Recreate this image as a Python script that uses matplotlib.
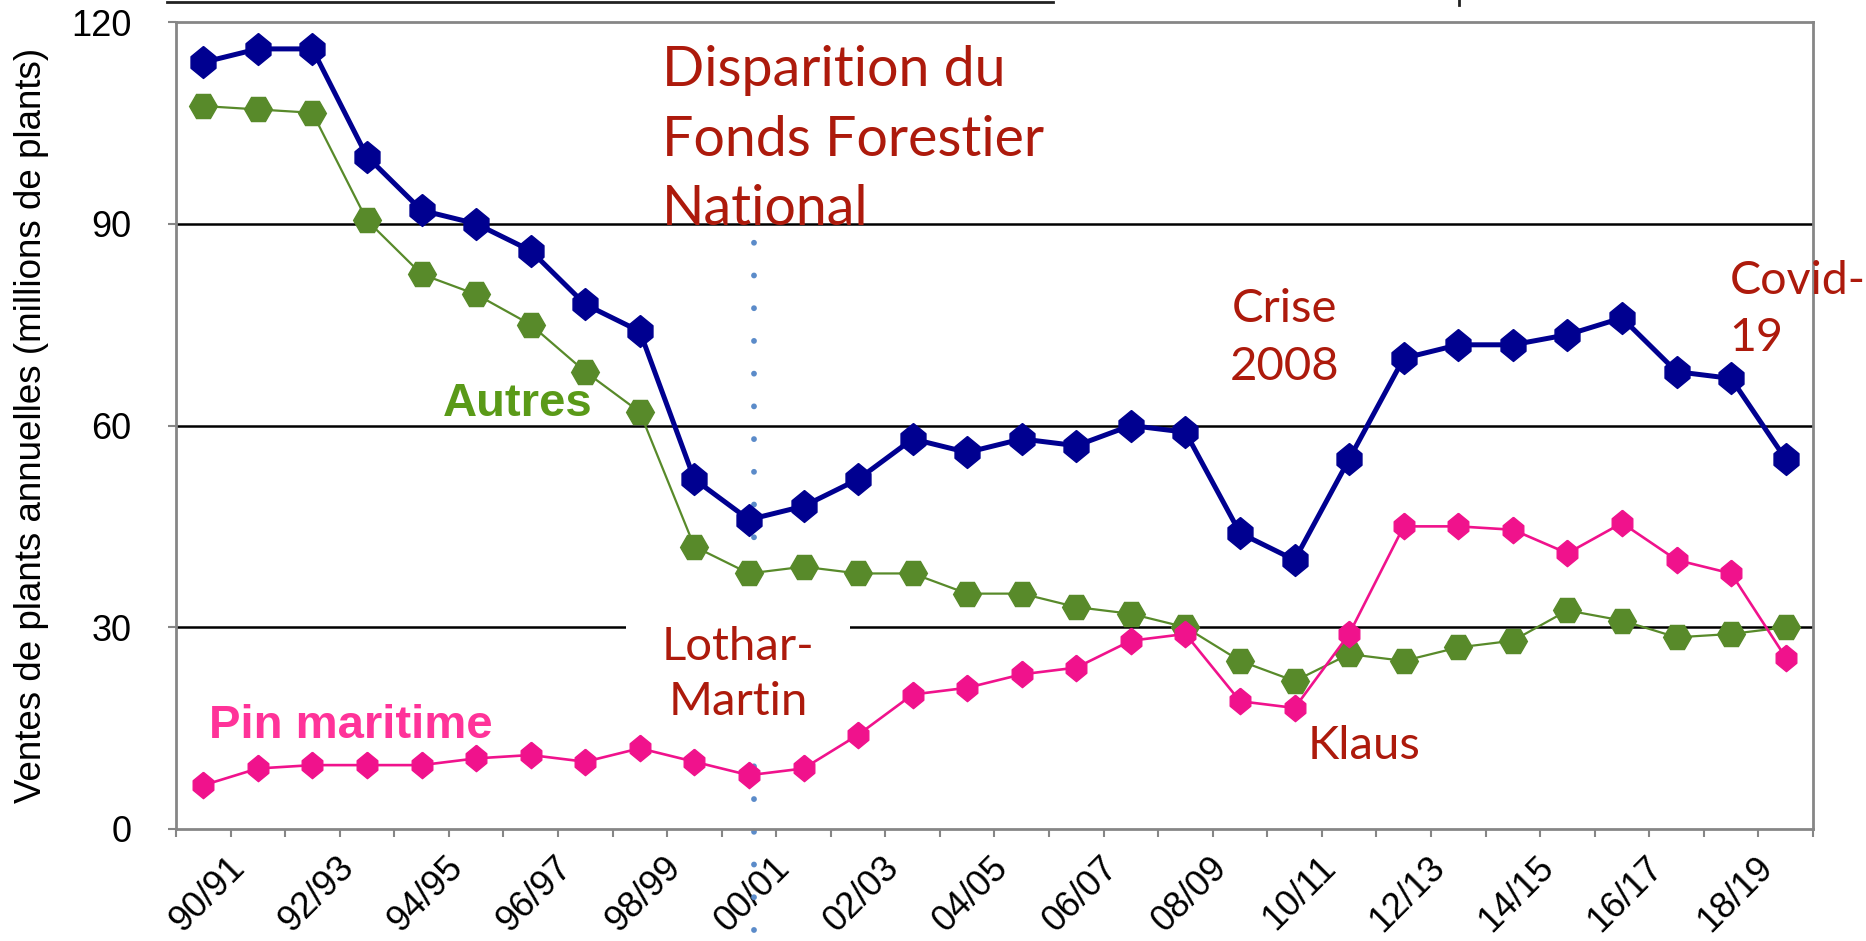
import numpy as np
import matplotlib
matplotlib.use('Agg')
import matplotlib.pyplot as plt
from matplotlib.lines import Line2D
from matplotlib.transforms import ScaledTranslation

# campagnes 90/91 ... 19/20
seasons = ['90/91', '91/92', '92/93', '93/94', '94/95', '95/96', '96/97', '97/98',
           '98/99', '99/00', '00/01', '01/02', '02/03', '03/04', '04/05', '05/06',
           '06/07', '07/08', '08/09', '09/10', '10/11', '11/12', '12/13', '13/14',
           '14/15', '15/16', '16/17', '17/18', '18/19', '19/20']

total = [114, 116, 116, 100, 92, 90, 86, 78, 74, 52, 46, 48, 52, 58, 56, 58, 57,
         60, 59, 44, 40, 55, 70, 72, 72, 73.5, 76, 68, 67, 55]
autres = [107.5, 107, 106.5, 90.5, 82.5, 79.5, 75, 68, 62, 42, 38, 39, 38, 38, 35,
          35, 33, 32, 30, 25, 22, 26, 25, 27, 28, 32.5, 31, 28.5, 29, 30]
pin_maritime = [6.5, 9, 9.5, 9.5, 9.5, 10.5, 11, 10, 12, 10, 8, 9, 14, 20, 21, 23,
                24, 28, 29, 19, 18, 29, 45, 45, 44.5, 41, 45.5, 40, 38, 25.5]

y_ticks = [0, 30, 60, 90, 120]
storm_x = 10.1          # position of the dotted "Lothar-Martin" marker line
storm_span = (-15, 91)

RED = '#AD1A0C'
BLUE = '#000090'
GREEN = '#588A2A'
PINK = '#F0128C'
GRAY = '#868686'

# Excel-like stretched hexagon (pointed top and bottom)
tall_hex = [(0, 1), (0.78, 0.36), (0.78, -0.36), (0, -1), (-0.78, -0.36), (-0.78, 0.36), (0, 1)]

plt.rcParams['font.family'] = ['Liberation Sans', 'DejaVu Sans']

fig = plt.figure(figsize=(18.66, 9.41), dpi=100)
ax = fig.add_axes([176 / 1866, 1 - 829 / 941, (1813 - 176) / 1866, (829 - 22) / 941])

x = np.arange(len(seasons))

ax.plot(x, total, color=BLUE, lw=3.6, marker=tall_hex, ms=23, mec=BLUE, mfc=BLUE, zorder=6)
ax.plot(x, autres, color=GREEN, lw=1.6, marker='H', ms=20, mec=GREEN, mfc=GREEN, zorder=5)
ax.plot(x, pin_maritime, color=PINK, lw=1.9, marker=tall_hex, ms=19, mec=PINK, mfc=PINK, zorder=5)

for v in y_ticks[1:-1]:
    ax.axhline(v, color='black', lw=1.8, zorder=1)

ax.plot([storm_x, storm_x], storm_span, color='#5B8BC9', lw=4.2,
        dashes=(0.01, 5.6), dash_capstyle='round', clip_on=False, zorder=2)

ax.set_xlim(-0.5, len(seasons) - 0.5)
ax.set_ylim(0, 120)

# tick marks on category boundaries, labels on every other season
ax.set_xticks(np.arange(len(seasons) + 1) - 0.5)
ax.set_xticklabels([])
ax.set_xticks(x[::2], minor=True)
ax.set_xticklabels(seasons[::2], minor=True, rotation=45, ha='right', va='center',
                   rotation_mode='anchor', fontsize=26)
ax.tick_params(axis='x', which='major', direction='out', length=6, width=1.5, color=GRAY)
ax.tick_params(axis='x', which='minor', length=0, pad=24)
offset = ScaledTranslation(0.36, 0, fig.dpi_scale_trans)
for lab in ax.get_xticklabels(minor=True):
    lab.set_transform(lab.get_transform() + offset)

ax.set_yticks(y_ticks)
ax.tick_params(axis='y', direction='out', length=6, width=1.5, color=GRAY,
               labelsize=26, pad=26)

for s in ax.spines.values():
    s.set_color(GRAY)
    s.set_linewidth(2)

ax.set_ylabel('Ventes de plants annuelles (millions de plants)', fontsize=26.5, labelpad=16)

ann_font = ['Lato', 'DejaVu Sans']
ax.text(8.4, 102.4, 'Disparition du\nFonds Forestier\nNational', color=RED, fontsize=40,
        family=ann_font, ha='left', va='center', linespacing=1.45, zorder=7)
ax.text(19.82, 73.0, 'Crise\n2008', color=RED, fontsize=34, family=ann_font,
        ha='center', va='center', linespacing=1.45, zorder=7)
ax.text(9.8, 23.0, 'Lothar-\nMartin', color=RED, fontsize=34, family=ann_font,
        ha='center', va='center', linespacing=1.38, zorder=4,
        bbox=dict(boxstyle='square,pad=0.75', fc='white', ec='none'))
ax.text(21.27, 12.3, 'Klaus', color=RED, fontsize=34, family=ann_font,
        ha='center', va='center', zorder=7)
ax.text(27.97, 77.2, 'Covid-\n19', color=RED, fontsize=33.5, family=ann_font,
        ha='left', va='center', linespacing=1.45, zorder=7, clip_on=False)

ax.text(0.1, 15.3, 'Pin maritime', color='#FF3399', fontsize=34, fontweight='bold',
        ha='left', va='center', zorder=7)
ax.text(4.39, 63.2, 'Autres', color='#5A9A18', fontsize=34, fontweight='bold',
        ha='left', va='center', zorder=7)

# remnant of the title rule above the chart
fig.add_artist(Line2D([167 / 1866, 1053 / 1866], [1 - 1.5 / 941] * 2,
                      color='#222222', lw=2, transform=fig.transFigure))
fig.add_artist(Line2D([1459 / 1866] * 2, [1, 1 - 5 / 941],
                      color='#222222', lw=2, transform=fig.transFigure))

fig.savefig('out.png', dpi=100, facecolor='white')
